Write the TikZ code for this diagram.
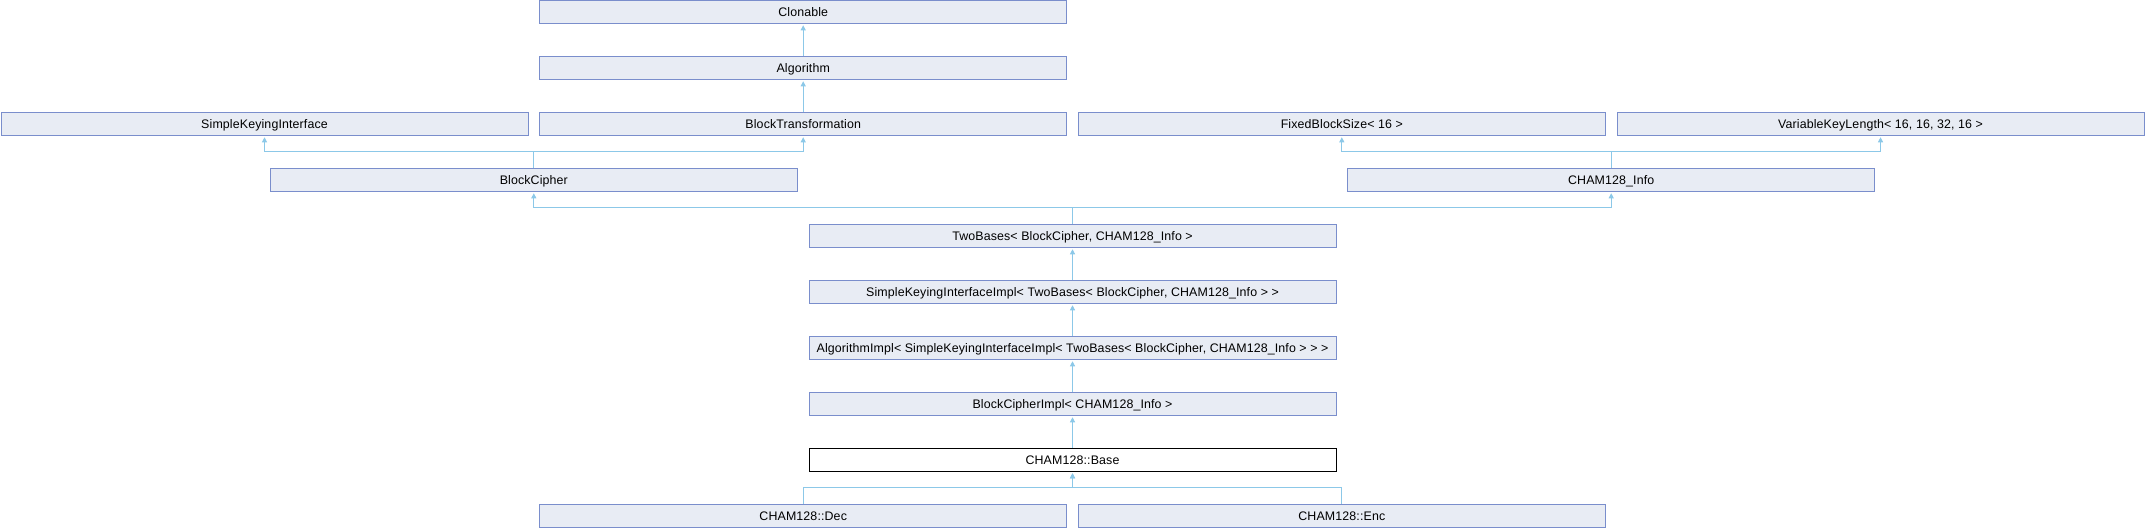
\documentclass[tikz,border=0pt]{standalone}
\usepackage{fontspec}
\setmainfont{Liberation Sans}[LetterSpace=1]
\usetikzlibrary{arrows.meta}
\definecolor{clsfill}{RGB}{232,236,244}
\definecolor{clsedge}{RGB}{122,142,204}
\definecolor{inhblue}{RGB}{140,200,232}
\begin{document}
\begin{tikzpicture}[x=1pt, y=1pt,
  cls/.style={draw=clsedge, fill=clsfill, line width=1pt, minimum width=527pt,
    minimum height=23pt, inner sep=0pt, text height=9pt, text depth=0pt,
    font=\fontsize{12.4}{15}\selectfont},
  curcls/.style={cls, draw=black, fill=white},
  inh/.style={draw=inhblue, line width=1pt, -{Triangle[width=5pt,length=5pt]}, shorten >=1.5pt}]
\useasboundingbox (0,0) rectangle (2146,-528);
% row 0 to 2
\node[cls] (clonable) at (803.2,-11.75) {Clonable};
\node[cls] (algo) at (803.2,-67.75) {Algorithm};
\node[cls] (ski) at (264.5,-123.75) {SimpleKeyingInterface};
\node[cls] (btrans) at (803.2,-123.75) {BlockTransformation};
\node[cls] (fbs) at (1341.8,-123.75) {FixedBlockSize< 16 >};
\node[cls] (vkl) at (1880.5,-123.75) {VariableKeyLength< 16, 16, 32, 16 >};
% row 3
\node[cls] (bcipher) at (533.8,-179.75) {BlockCipher};
\node[cls] (info) at (1611.2,-179.75) {CHAM128\_Info};
% main chain
\node[cls] (twob) at (1072.5,-235.75) {TwoBases< BlockCipher, CHAM128\_Info >};
\node[cls] (skii) at (1072.5,-291.75) {SimpleKeyingInterfaceImpl< TwoBases< BlockCipher, CHAM128\_Info > >};
\node[cls] (algoimpl) at (1072.5,-347.75) {AlgorithmImpl< SimpleKeyingInterfaceImpl< TwoBases< BlockCipher, CHAM128\_Info > > >};
\node[cls] (bcimpl) at (1072.5,-403.75) {BlockCipherImpl< CHAM128\_Info >};
\node[curcls] (base) at (1072.5,-459.75) {CHAM128::Base};
\node[cls] (dec) at (803.2,-515.75) {CHAM128::Dec};
\node[cls] (enc) at (1341.8,-515.75) {CHAM128::Enc};
% inheritance
\draw[inh] (algo) -- (clonable);
\draw[inh] (btrans) -- (algo);
\draw[inh] (bcipher.north) -- ++(0,16.5) -| (ski.south);
\draw[inh] (bcipher.north) -- ++(0,16.5) -| (btrans.south);
\draw[inh] (info.north) -- ++(0,16.5) -| (fbs.south);
\draw[inh] (info.north) -- ++(0,16.5) -| (vkl.south);
\draw[inh] (twob.north) -- ++(0,16.5) -| (bcipher.south);
\draw[inh] (twob.north) -- ++(0,16.5) -| (info.south);
\draw[inh] (skii) -- (twob);
\draw[inh] (algoimpl) -- (skii);
\draw[inh] (bcimpl) -- (algoimpl);
\draw[inh] (base) -- (bcimpl);
\draw[inh] (dec.north) -- ++(0,16.5) -| (base.south);
\draw[inh] (enc.north) -- ++(0,16.5) -| (base.south);
\end{tikzpicture}
\end{document}
